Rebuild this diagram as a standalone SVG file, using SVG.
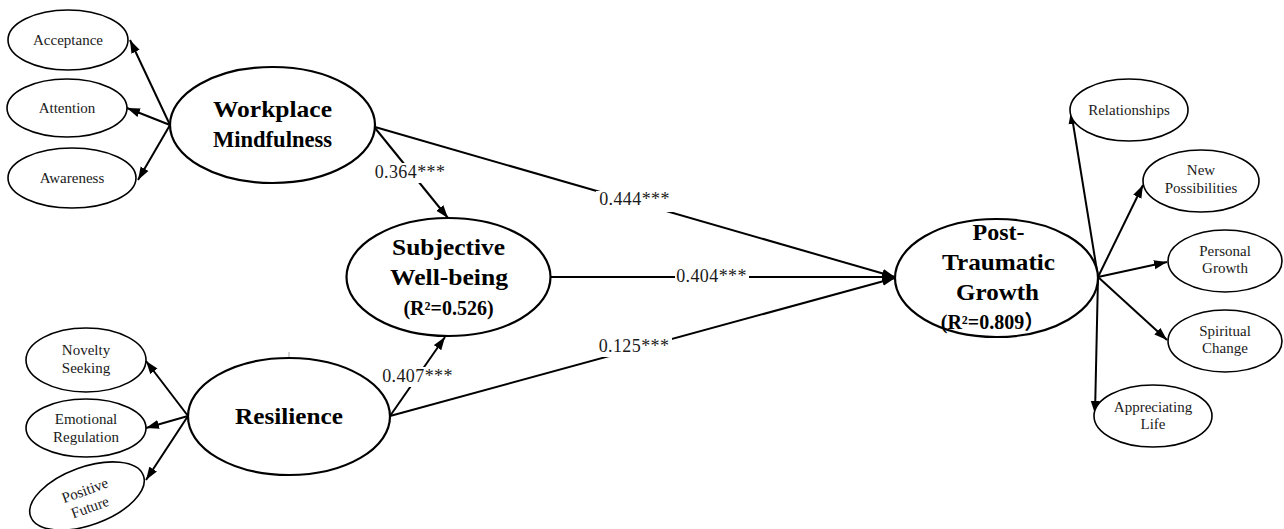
<svg xmlns="http://www.w3.org/2000/svg" width="1284" height="529" viewBox="0 0 1284 529">
<style>
.bg{fill:#ffffff}
.big{fill:#ffffff;stroke:#000;stroke-width:2.2}
.small{fill:#ffffff;stroke:#000;stroke-width:1.6}
.lt{font-family:"Liberation Serif","Times New Roman",serif;font-weight:bold;font-size:24px;fill:#000;text-anchor:middle}
.r2{font-family:"Liberation Serif","Noto Sans CJK SC",serif;font-weight:bold;font-size:20px;fill:#000;text-anchor:middle}
.st{font-family:"Liberation Serif","Times New Roman",serif;font-size:15px;fill:#1a1a1a;text-anchor:middle}
.co{font-family:"Liberation Serif","Times New Roman",serif;font-size:18px;letter-spacing:0.4px;fill:#1a1a1a;text-anchor:middle}
.cn{stroke:#000;stroke-width:2;fill:none;marker-end:url(#ah)}
</style>
<defs>
<marker id="ah" markerUnits="userSpaceOnUse" markerWidth="14" markerHeight="10" refX="13" refY="5" orient="auto">
<path d="M0,0.5 L13,5 L0,9.5 Z" fill="#000"/>
</marker>
</defs>
<rect class="bg" x="0" y="0" width="1284" height="529"/>

<g id="connectors">
<line class="cn" x1="170" y1="125" x2="130" y2="40"/>
<line class="cn" x1="170" y1="125" x2="127" y2="108"/>
<line class="cn" x1="170" y1="125" x2="138" y2="180"/>
<line class="cn" x1="188" y1="416" x2="146" y2="361"/>
<line class="cn" x1="188" y1="416" x2="146" y2="428"/>
<line class="cn" x1="188" y1="416" x2="146" y2="480"/>
<line class="cn" x1="375" y1="128" x2="448" y2="218"/>
<line class="cn" x1="375" y1="127" x2="895" y2="277"/>
<line class="cn" x1="550" y1="277" x2="895" y2="277"/>
<line class="cn" x1="390" y1="416" x2="445" y2="337"/>
<line class="cn" x1="390" y1="416" x2="895" y2="278"/>
<line class="cn" x1="1098" y1="277" x2="1071" y2="111"/>
<line class="cn" x1="1098" y1="277" x2="1143" y2="185"/>
<line class="cn" x1="1098" y1="277" x2="1167" y2="262"/>
<line class="cn" x1="1098" y1="277" x2="1167" y2="340"/>
<line class="cn" x1="1098" y1="277" x2="1095" y2="414"/>
<line x1="289" y1="352" x2="289" y2="358" stroke="#aaa" stroke-width="1"/>
<g id="labels">
<rect class="bg" x="372" y="163" width="77" height="20"/>
<text class="co" x="410" y="178">0.364***</text>
<rect class="bg" x="596" y="191" width="78" height="21"/>
<text class="co" x="634.5" y="205">0.444***</text>
<rect class="bg" x="675" y="268" width="74" height="17"/>
<text class="co" x="711.5" y="282">0.404***</text>
<rect class="bg" x="381" y="367" width="73" height="20"/>
<text class="co" x="417.5" y="382">0.407***</text>
<rect class="bg" x="597" y="337" width="75" height="20"/>
<text class="co" x="634" y="352">0.125***</text>
</g>
</g>

<g id="workplace-mindfulness">
<ellipse class="big" cx="272.5" cy="125" rx="102.5" ry="58"/>
<text class="lt" x="272.5" y="117" textLength="119" lengthAdjust="spacingAndGlyphs">Workplace</text>
<text class="lt" x="272.5" y="147" textLength="119" lengthAdjust="spacingAndGlyphs">Mindfulness</text>
</g>
<g id="acceptance">
<ellipse class="small" cx="68" cy="40" rx="60" ry="30"/>
<text class="st" x="68" y="45">Acceptance</text>
</g>
<g id="attention">
<ellipse class="small" cx="67" cy="108" rx="60" ry="29"/>
<text class="st" x="67" y="113">Attention</text>
</g>
<g id="awareness">
<ellipse class="small" cx="72" cy="178" rx="64" ry="30"/>
<text class="st" x="72" y="183">Awareness</text>
</g>

<g id="subjective-well-being">
<ellipse class="big" cx="448.5" cy="277" rx="102" ry="59"/>
<text class="lt" x="448.5" y="255" textLength="113" lengthAdjust="spacingAndGlyphs">Subjective</text>
<text class="lt" x="449" y="285" textLength="118" lengthAdjust="spacingAndGlyphs">Well-being</text>
<text class="r2" x="448.5" y="315">(R²=0.526)</text>
</g>

<g id="resilience">
<ellipse class="big" cx="289" cy="416.5" rx="101" ry="58.5"/>
<text class="lt" x="289" y="424" textLength="108" lengthAdjust="spacingAndGlyphs">Resilience</text>
</g>
<g id="novelty-seeking">
<ellipse class="small" cx="86" cy="360" rx="60" ry="32"/>
<text class="st" x="86" y="355">Novelty</text>
<text class="st" x="86" y="373">Seeking</text>
</g>
<g id="emotional-regulation">
<ellipse class="small" cx="86" cy="428" rx="60" ry="29"/>
<text class="st" x="86" y="424">Emotional</text>
<text class="st" x="86" y="442">Regulation</text>
</g>
<g id="positive-future" transform="translate(87,496) rotate(-20)">
<ellipse class="small" cx="0" cy="0" rx="60" ry="29"/>
<text class="st" x="0" y="-1">Positive</text>
<text class="st" x="-1" y="16.5">Future</text>
</g>

<g id="post-traumatic-growth">
<ellipse class="big" cx="996.5" cy="278" rx="101.5" ry="59"/>
<text class="lt" x="998.5" y="240">Post-</text>
<text class="lt" x="998.5" y="270" textLength="113" lengthAdjust="spacingAndGlyphs">Traumatic</text>
<text class="lt" x="997.5" y="300" textLength="83" lengthAdjust="spacingAndGlyphs">Growth</text>
<text class="r2" x="992.5" y="329">(R²=0.809）</text>
</g>
<g id="relationships">
<ellipse class="small" cx="1129" cy="110" rx="59" ry="31"/>
<text class="st" x="1129" y="115">Relationships</text>
</g>
<g id="new-possibilities">
<ellipse class="small" cx="1201" cy="181" rx="58" ry="31"/>
<text class="st" x="1201" y="175">New</text>
<text class="st" x="1201" y="193">Possibilities</text>
</g>
<g id="personal-growth">
<ellipse class="small" cx="1225" cy="261" rx="57" ry="31"/>
<text class="st" x="1225" y="256">Personal</text>
<text class="st" x="1225" y="273">Growth</text>
</g>
<g id="spiritual-change">
<ellipse class="small" cx="1225" cy="341" rx="57" ry="31"/>
<text class="st" x="1225" y="336">Spiritual</text>
<text class="st" x="1225" y="353">Change</text>
</g>
<g id="appreciating-life">
<ellipse class="small" cx="1153" cy="416" rx="59" ry="31"/>
<text class="st" x="1153" y="412">Appreciating</text>
<text class="st" x="1153" y="429">Life</text>
</g>
</svg>
